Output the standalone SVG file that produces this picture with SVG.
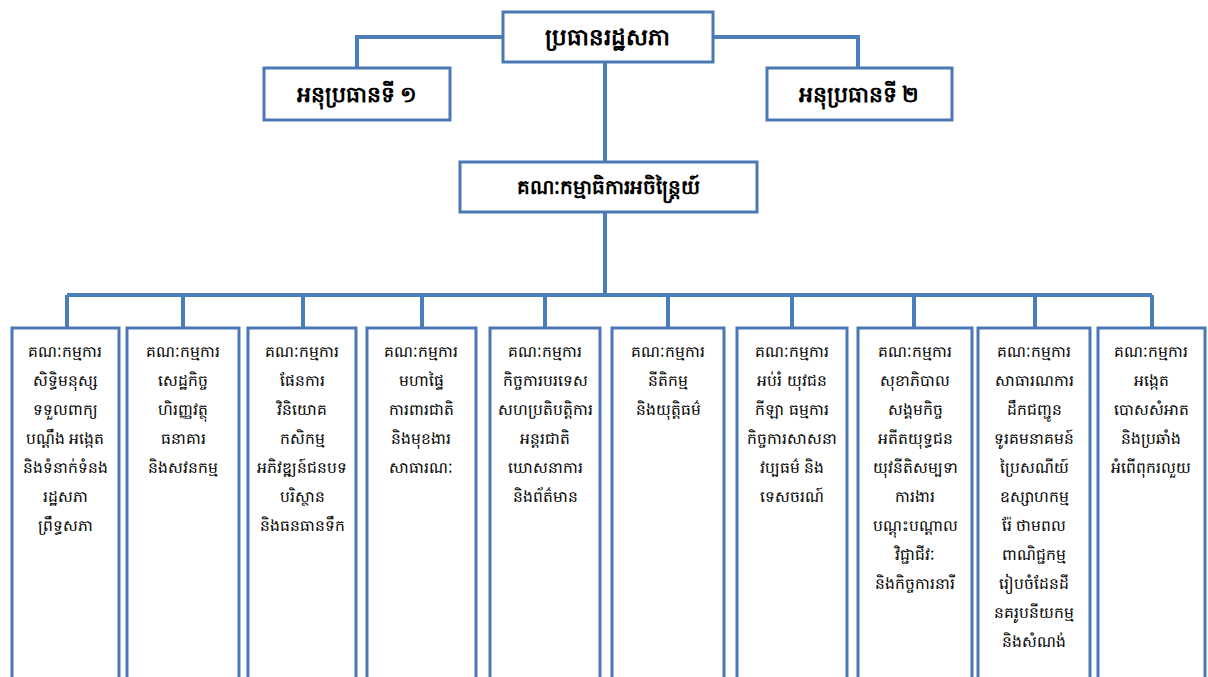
<svg xmlns="http://www.w3.org/2000/svg" width="1208" height="677" viewBox="0 0 1208 677">
<style>
.box{fill:#ffffff;stroke:#4a78b5;stroke-width:3}
.ln{fill:none;stroke:#4a7ebb;stroke-width:4}
.t{font-family:"Noto Sans","DejaVu Sans",sans-serif;fill:#000;text-anchor:middle}
.h{font-size:22px;font-weight:bold}
.h1{font-size:23px}
.h3{font-size:20px}
.c{font-size:15.5px}
</style>
<rect width="1208" height="677" fill="#ffffff"/>
<g id="connectors">
<path class="ln" d="M503 37 H357 V68"/>
<path class="ln" d="M713 37 H858 V68"/>
<path class="ln" d="M605 62 V162"/>
<path class="ln" d="M605 212 V295"/>
<path class="ln" d="M67 295 H1152"/>
<path class="ln" d="M67 295 V328 M183 295 V328 M303 295 V328 M422 295 V328 M545 295 V328 M668 295 V328 M792 295 V328 M914 295 V328 M1035 295 V328 M1152 295 V328"/>
</g>
<g id="president">
<rect class="box" x="503" y="12" width="210" height="50"/>
<text class="t h h1" x="607" y="45">ប្រធានរដ្ឋសភា</text>
</g>
<g id="vice1">
<rect class="box" x="264" y="68" width="186" height="52"/>
<text class="t h" x="357" y="102">អនុប្រធានទី ១</text>
</g>
<g id="vice2">
<rect class="box" x="767" y="68" width="185" height="52"/>
<text class="t h" x="859" y="102">អនុប្រធានទី ២</text>
</g>
<g id="standing">
<rect class="box" x="460" y="162" width="297" height="50"/>
<text class="t h h3" x="608" y="194">គណៈកម្មាធិការអចិន្ត្រៃយ៍</text>
</g>
<g id="c1">
<rect class="box" x="12" y="328" width="107" height="365"/>
<text class="t c" x="65" y="357">គណៈកម្មការ</text>
<text class="t c" x="65" y="386">សិទ្ធិមនុស្ស</text>
<text class="t c" x="65" y="415">ទទួលពាក្យ</text>
<text class="t c" x="65" y="444">បណ្ដឹង អង្កេត</text>
<text class="t c" x="65" y="473">និងទំនាក់ទំនង</text>
<text class="t c" x="65" y="502">រដ្ឋសភា</text>
<text class="t c" x="65" y="531">ព្រឹទ្ធសភា</text>
</g>
<g id="c2">
<rect class="box" x="127" y="328" width="112" height="365"/>
<text class="t c" x="183" y="357">គណៈកម្មការ</text>
<text class="t c" x="183" y="386">សេដ្ឋកិច្ច</text>
<text class="t c" x="183" y="415">ហិរញ្ញវត្ថុ</text>
<text class="t c" x="183" y="444">ធនាគារ</text>
<text class="t c" x="183" y="473">និងសវនកម្ម</text>
</g>
<g id="c3">
<rect class="box" x="248" y="328" width="108" height="365"/>
<text class="t c" x="302" y="357">គណៈកម្មការ</text>
<text class="t c" x="302" y="386">ផែនការ</text>
<text class="t c" x="302" y="415">វិនិយោគ</text>
<text class="t c" x="302" y="444">កសិកម្ម</text>
<text class="t c" x="302" y="473">អភិវឌ្ឍន៍ជនបទ</text>
<text class="t c" x="302" y="502">បរិស្ថាន</text>
<text class="t c" x="302" y="531">និងធនធានទឹក</text>
</g>
<g id="c4">
<rect class="box" x="367" y="328" width="109" height="365"/>
<text class="t c" x="421" y="357">គណៈកម្មការ</text>
<text class="t c" x="421" y="386">មហាផ្ទៃ</text>
<text class="t c" x="421" y="415">ការពារជាតិ</text>
<text class="t c" x="421" y="444">និងមុខងារ</text>
<text class="t c" x="421" y="473">សាធារណៈ</text>
</g>
<g id="c5">
<rect class="box" x="490" y="328" width="110" height="365"/>
<text class="t c" x="545" y="357">គណៈកម្មការ</text>
<text class="t c" x="545" y="386">កិច្ចការបរទេស</text>
<text class="t c" x="545" y="415">សហប្រតិបត្តិការ</text>
<text class="t c" x="545" y="444">អន្តរជាតិ</text>
<text class="t c" x="545" y="473">ឃោសនាការ</text>
<text class="t c" x="545" y="502">និងព័ត៌មាន</text>
</g>
<g id="c6">
<rect class="box" x="612" y="328" width="112" height="365"/>
<text class="t c" x="668" y="357">គណៈកម្មការ</text>
<text class="t c" x="668" y="386">នីតិកម្ម</text>
<text class="t c" x="668" y="415">និងយុត្តិធម៌</text>
</g>
<g id="c7">
<rect class="box" x="737" y="328" width="110" height="365"/>
<text class="t c" x="792" y="357">គណៈកម្មការ</text>
<text class="t c" x="792" y="386">អប់រំ យុវជន</text>
<text class="t c" x="792" y="415">កីឡា ធម្មការ</text>
<text class="t c" x="792" y="444">កិច្ចការសាសនា</text>
<text class="t c" x="792" y="473">វប្បធម៌ និង</text>
<text class="t c" x="792" y="502">ទេសចរណ៍</text>
</g>
<g id="c8">
<rect class="box" x="858" y="328" width="114" height="365"/>
<text class="t c" x="915" y="357">គណៈកម្មការ</text>
<text class="t c" x="915" y="386">សុខាភិបាល</text>
<text class="t c" x="915" y="415">សង្គមកិច្ច</text>
<text class="t c" x="915" y="444">អតីតយុទ្ធជន</text>
<text class="t c" x="915" y="473">យុវនីតិសម្បទា</text>
<text class="t c" x="915" y="502">ការងារ</text>
<text class="t c" x="915" y="531">បណ្ដុះបណ្ដាល</text>
<text class="t c" x="915" y="560">វិជ្ជាជីវៈ</text>
<text class="t c" x="915" y="589">និងកិច្ចការនារី</text>
</g>
<g id="c9">
<rect class="box" x="978" y="328" width="112" height="365"/>
<text class="t c" x="1034" y="357">គណៈកម្មការ</text>
<text class="t c" x="1034" y="386">សាធារណការ</text>
<text class="t c" x="1034" y="415">ដឹកជញ្ជូន</text>
<text class="t c" x="1034" y="444">ទូរគមនាគមន៍</text>
<text class="t c" x="1034" y="473">ប្រៃសណីយ៍</text>
<text class="t c" x="1034" y="502">ឧស្សាហកម្ម</text>
<text class="t c" x="1034" y="531">រ៉ែ ថាមពល</text>
<text class="t c" x="1034" y="560">ពាណិជ្ជកម្ម</text>
<text class="t c" x="1034" y="589">រៀបចំដែនដី</text>
<text class="t c" x="1034" y="618">នគរូបនីយកម្ម</text>
<text class="t c" x="1034" y="647">និងសំណង់</text>
</g>
<g id="c10">
<rect class="box" x="1098" y="328" width="107" height="365"/>
<text class="t c" x="1151" y="357">គណៈកម្មការ</text>
<text class="t c" x="1151" y="386">អង្កេត</text>
<text class="t c" x="1151" y="415">បោសសំអាត</text>
<text class="t c" x="1151" y="444">និងប្រឆាំង</text>
<text class="t c" x="1151" y="473">អំពើពុករលួយ</text>
</g>
</svg>
